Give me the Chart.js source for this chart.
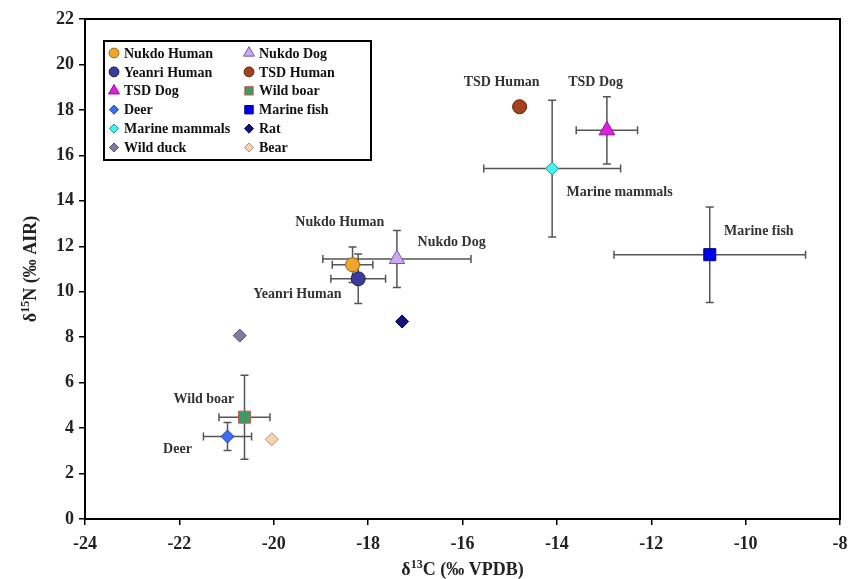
<!DOCTYPE html>
<html>
<head>
<meta charset="utf-8">
<script src="https://cdn.jsdelivr.net/npm/chart.js@4.4.1/dist/chart.umd.min.js"></script>
<style>
body{margin:0;background:#fff}
#wrap{width:861px;height:579px}
</style>
</head>
<body>
<div id="wrap"><canvas id="isoChart"></canvas></div>
<script>
// groups, means and 1 SD
const groups=["Nukdo Human","Nukdo Dog","Yeanri Human","TSD Human","TSD Dog","Wild boar","Deer","Marine fish","Marine mammals","Rat","Wild duck","Bear"];
const d13C=[-18.33,-17.39,-18.21,-14.79,-12.94,-20.62,-20.98,-10.76,-14.10,-17.28,-20.72,-20.04];
const d15N=[11.19,11.44,10.57,18.14,17.10,4.48,3.63,11.63,15.42,8.69,8.07,3.51];
const sdC=[0.43,1.57,0.58,null,0.65,0.54,0.51,2.03,1.45,null,null,null];
const sdN=[0.78,1.25,1.09,null,1.48,1.85,0.62,2.10,3.01,null,null,null];
// text labels next to the points
const labelText=["Nukdo Human","Nukdo Dog","Yeanri Human","TSD Human","TSD Dog","Marine mammals","Marine fish","Wild boar","Deer"];
const labelX=[-18.6,-16.23,-19.5,-15.17,-13.18,-12.67,-9.72,-21.48,-22.04];
const labelY=[13.07,12.16,9.9,19.2,19.2,14.37,12.64,5.28,3.07];

const fills=["#f2a52c","#c9a9f2","#3b3b9c","#a3421c","#e01ee0","#3a9a68","#3c6ef2","#0000ee","#44f2f2","#12127e","#7c7c9c","#f8d2ac"];
const edges=["#a06414","#7a5aa2","#1c1c5c","#5e2008","#901090","#c46050","#2040a2","#000080","#209292","#000050","#50506c","#b09282"];
const shapes=["circle","triangle","circle","circle","triangle","rect","rectRot","rect","rectRot","rectRot","rectRot","rectRot"];
const SERIF='"Liberation Serif","Times New Roman",serif';

function radiusFor(s){
return s=="circle"?7:s=="triangle"?9:s=="rect"?8.5:6.5;
}

const errorBars={
id:"errorBars",
beforeDatasetsDraw(chart){
let c=chart.ctx,x=chart.scales.x,y=chart.scales.y;
c.save();
c.strokeStyle="#555";c.lineWidth=1.5;
groups.forEach((g,i)=>{
let px=x.getPixelForValue(d13C[i]),py=y.getPixelForValue(d15N[i]);
if(sdC[i]!=null){
let l=x.getPixelForValue(d13C[i]-sdC[i]),r=x.getPixelForValue(d13C[i]+sdC[i]);
c.beginPath();
c.moveTo(l,py);c.lineTo(r,py);
c.moveTo(l,py-4);c.lineTo(l,py+4);
c.moveTo(r,py-4);c.lineTo(r,py+4);
c.stroke();
}
if(sdN[i]!=null){
let t=y.getPixelForValue(d15N[i]+sdN[i]),b=y.getPixelForValue(d15N[i]-sdN[i]);
c.beginPath();
c.moveTo(px,t);c.lineTo(px,b);
c.moveTo(px-4,t);c.lineTo(px+4,t);
c.moveTo(px-4,b);c.lineTo(px+4,b);
c.stroke();
}
});
c.restore();
}
};

function drawSuper(c,parts,cx,cy){
// parts: [text,size,raise]
let w=0;
parts.forEach(p=>{c.font="bold "+p[1]+"px "+SERIF;w+=c.measureText(p[0]).width;});
let x=cx-w/2;
parts.forEach(p=>{
c.font="bold "+p[1]+"px "+SERIF;
c.fillText(p[0],x,cy-p[2]);
x+=c.measureText(p[0]).width;
});
}

const decor={
id:"decor",
afterDraw(chart){
let c=chart.ctx,a=chart.chartArea,x=chart.scales.x,y=chart.scales.y;
c.save();
// frame
c.strokeStyle="#000";c.lineWidth=2;
c.strokeRect(a.left,a.top,a.right-a.left,a.bottom-a.top);
// point labels
c.fillStyle="#333";c.font="bold 14px "+SERIF;
c.textAlign="center";c.textBaseline="middle";
labelText.forEach((t,i)=>c.fillText(t,x.getPixelForValue(labelX[i]),y.getPixelForValue(labelY[i])));
// axis titles
c.fillStyle="#222";c.textAlign="left";c.textBaseline="alphabetic";
drawSuper(c,[["δ",18,0],["13",12,7],["C (‰ VPDB)",18,0]],(a.left+a.right)/2,575);
c.translate(36,(a.top+a.bottom)/2);c.rotate(-Math.PI/2);
drawSuper(c,[["δ",18,0],["15",12,7],["N (‰ AIR)",18,0]],0,0);
c.setTransform(1,0,0,1,0,0);
// legend box
let bx=104,by=41,bw=267,bh=119;
c.fillStyle="#fff";c.fillRect(bx,by,bw,bh);
c.strokeStyle="#000";c.lineWidth=2;c.strokeRect(bx,by,bw,bh);
c.font="bold 14px "+SERIF;c.textBaseline="middle";
groups.forEach((g,i)=>{
let col=i%2,row=Math.floor(i/2);
let mx=col?249:114,ty=by+12+row*18.9;
c.fillStyle=fills[i];c.strokeStyle=edges[i];c.lineWidth=1;
Chart.helpers.drawPoint(c,{pointStyle:shapes[i],radius:radiusFor(shapes[i])*0.7,rotation:0,borderWidth:1},mx,ty);
c.fillStyle="#111";
c.fillText(g,mx+10,ty+1);
});
c.restore();
}
};

new Chart(document.getElementById("isoChart"),{
type:"scatter",
data:{
datasets:groups.map((g,i)=>({
label:g,
data:[{x:d13C[i],y:d15N[i]}],
pointStyle:shapes[i],
pointRadius:radiusFor(shapes[i]),
pointHoverRadius:radiusFor(shapes[i]),
backgroundColor:fills[i],
borderColor:edges[i],
borderWidth:1
}))
},
options:{
responsive:true,
maintainAspectRatio:false,
animation:false,
layout:{padding:{top:19,right:21,left:0,bottom:0}},
plugins:{legend:{display:false},tooltip:{enabled:false}},
scales:{
x:{
min:-24,max:-8,
ticks:{stepSize:2,color:"#222",font:{family:SERIF,size:18,weight:"bold"},padding:9,maxRotation:0},
grid:{drawOnChartArea:false,color:"#000",lineWidth:1.5,tickLength:6},
border:{display:true,color:"#000",width:2},
afterFit(s){s.height=60;}
},
y:{
min:0,max:22,
ticks:{stepSize:2,color:"#222",font:{family:SERIF,size:18,weight:"bold"},padding:5},
grid:{drawOnChartArea:false,color:"#000",lineWidth:1.5,tickLength:6},
border:{display:true,color:"#000",width:2},
afterFit(s){s.width=85;}
}
}
},
plugins:[errorBars,decor]
});
</script>
</body>
</html>
